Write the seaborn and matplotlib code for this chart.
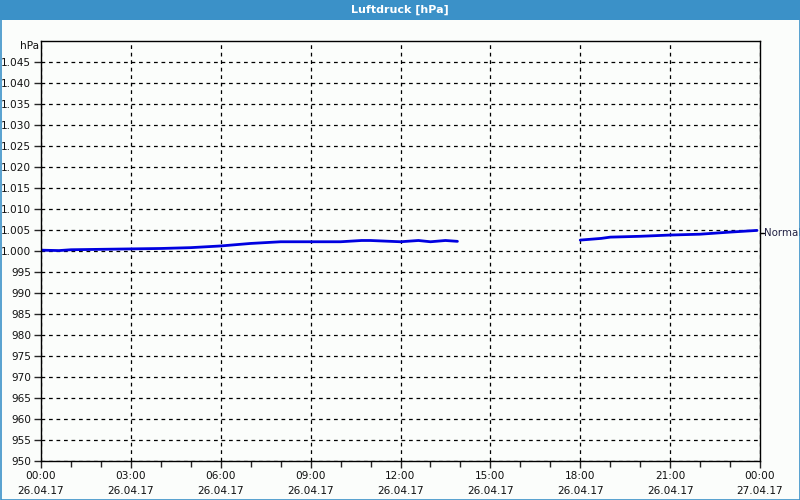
import numpy as np
import pandas as pd
import matplotlib
matplotlib.use("Agg")
import matplotlib.pyplot as plt
import matplotlib.ticker as mticker
from matplotlib.patches import Rectangle
import seaborn as sns

# ---- data (hours since 26.04.17 00:00, pressure in hPa) ----
hours_a = [0.0, 0.6, 1.0, 2.0, 3.0, 4.0, 5.0, 6.0, 7.0, 8.0, 9.0, 10.0, 10.7, 11.0,
           12.0, 12.6, 13.0, 13.5, 13.9]
press_a = [1000.2, 1000.1, 1000.3, 1000.4, 1000.5, 1000.6, 1000.8, 1001.2, 1001.8,
           1002.2, 1002.2, 1002.2, 1002.5, 1002.5, 1002.2, 1002.5, 1002.2, 1002.5, 1002.3]
hours_b = [18.0, 18.7, 19.0, 20.0, 21.0, 22.0, 23.0, 23.9]
press_b = [1002.6, 1003.0, 1003.3, 1003.5, 1003.8, 1004.0, 1004.5, 1004.9]

xtick_hours = [0, 3, 6, 9, 12, 15, 18, 21, 24]
xtick_labels = ["00:00\n26.04.17", "03:00\n26.04.17", "06:00\n26.04.17",
                "09:00\n26.04.17", "12:00\n26.04.17", "15:00\n26.04.17",
                "18:00\n26.04.17", "21:00\n26.04.17", "00:00\n27.04.17"]
y_min, y_max, y_step = 950, 1050, 5

df_a = pd.DataFrame({"h": hours_a, "p": press_a})
df_b = pd.DataFrame({"h": hours_b, "p": press_b})

sns.set_theme(style="white")
plt.rcParams["font.family"] = ["DejaVu Sans"]

bg = "#fbfdfb"
fig = plt.figure(figsize=(8, 5), dpi=100, facecolor=bg)
ax = fig.add_axes([41 / 800, 39 / 500, 719 / 800, 420 / 500])
ax.set_facecolor(bg)

line_color = "#0000e0"
sns.lineplot(data=df_a, x="h", y="p", ax=ax, color=line_color, linewidth=2.0,
             estimator=None)
sns.lineplot(data=df_b, x="h", y="p", ax=ax, color=line_color, linewidth=2.0,
             estimator=None)

ax.set_xlim(0, 24)
ax.set_ylim(y_min, y_max)
ax.set_xticks(xtick_hours)
ax.set_xticklabels(xtick_labels, fontsize=7.6, color="#111111", linespacing=1.6)
ax.xaxis.set_minor_locator(mticker.MultipleLocator(1))
yt = np.arange(y_min, y_max, y_step)
ax.set_yticks(yt)


def fmt(v, pos):
    v = int(round(v))
    if v >= 1000:
        return f"{v // 1000}.{v % 1000:03d}"
    return str(v)


ax.yaxis.set_major_formatter(mticker.FuncFormatter(fmt))
ax.tick_params(axis="y", labelsize=7.6, labelcolor="#111111", length=5, width=1,
               direction="out", left=True, pad=2)
ax.tick_params(axis="x", which="major", length=5, width=1, direction="out",
               bottom=True, pad=2.5)
ax.tick_params(axis="x", which="minor", length=4, width=1, direction="out",
               bottom=True)
ax.grid(True, which="major", color="black", linestyle=(0, (3, 3)), linewidth=0.9)
for s in ax.spines.values():
    s.set_color("black")
    s.set_linewidth(1.0)
    s.set_visible(True)
ax.set_xlabel("")
ax.set_ylabel("")

# hPa unit label at top-left of axis
ax.text(-0.003, 1048.9, "hPa", transform=ax.get_yaxis_transform(), ha="right",
        va="center", fontsize=7.6, color="#111111")
# series label on the right
ax.annotate("Normal", xy=(1.0, press_b[-1] - 0.5), xycoords=("axes fraction", "data"),
            xytext=(3, 0), textcoords="offset points", ha="left", va="center",
            fontsize=7.4, color="#222244")
ax.plot([1.0, 1.005], [press_b[-1] - 0.5] * 2, transform=ax.get_yaxis_transform(),
        color="black", lw=1, clip_on=False)

# window frame and title bar
blue = "#3b91c8"
fig.patches.append(Rectangle((0, 480 / 500), 1, 20 / 500, transform=fig.transFigure,
                             facecolor=blue, edgecolor="none", zorder=0))
fig.patches.append(Rectangle((0.5 / 800, 0.5 / 500), 799 / 800, 499 / 500,
                             transform=fig.transFigure, facecolor="none",
                             edgecolor=blue, linewidth=1.2, zorder=5))
fig.text(0.5, 490 / 500, "Luftdruck [hPa]", ha="center", va="center",
         color="white", fontsize=8, fontweight="bold")

fig.savefig("out.png", dpi=100, facecolor=bg)
